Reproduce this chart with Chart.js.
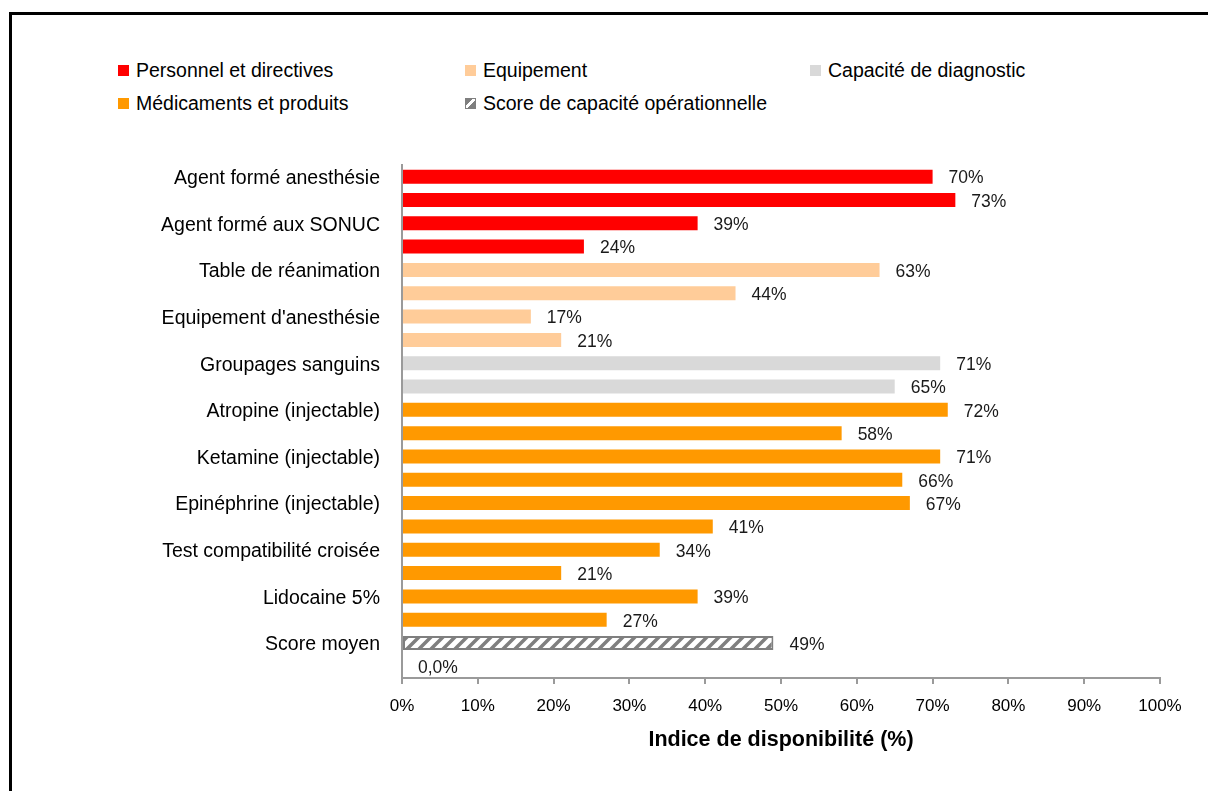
<!DOCTYPE html>
<html>
<head>
<meta charset="utf-8">
<script src="https://cdn.jsdelivr.net/npm/chart.js@4.4.0/dist/chart.umd.min.js"></script>
<style>
body{margin:0;background:#fff;}
#wrap{position:relative;width:1208px;height:791px;overflow:hidden;font-family:"Liberation Sans",Arial,sans-serif;}
#frame{position:absolute;left:9px;top:12px;width:1400px;height:1000px;border-top:3px solid #000;border-left:3px solid #000;}
#legend{position:absolute;left:118px;top:58px;display:grid;grid-template-columns:347px 345px 300px;row-gap:9px;font-size:19.5px;color:#000;}
.item{display:flex;align-items:center;height:24px;white-space:nowrap;}
.sw{width:11px;height:11px;margin-right:7px;box-sizing:border-box;}
#c{position:absolute;left:0;top:0;}
</style>
</head>
<body>
<div id="wrap">
  <div id="frame"></div>
  <div id="legend"></div>
  <canvas id="c" width="1208" height="791"></canvas>
</div>
<script>
// rows of the chart (Excel only shows every other label)
var categories = ['Agent formé anesthésie', '', 'Agent formé aux SONUC', '', 'Table de réanimation', '',
  "Equipement d'anesthésie", '', 'Groupages sanguins', '', 'Atropine (injectable)', '',
  'Ketamine (injectable)', '', 'Epinéphrine (injectable)', '', 'Test compatibilité croisée', '',
  'Lidocaine 5%', '', 'Score moyen', ''];
var values = [70, 73, 39, 24, 63, 44, 17, 21, 71, 65, 72, 58, 71, 66, 67, 41, 34, 21, 39, 27, 49, 0];
// which legend group each bar belongs to
var groups = [0, 0, 0, 0, 1, 1, 1, 1, 2, 2, 3, 3, 3, 3, 3, 3, 3, 3, 3, 3, 4, 4];
var groupNames = ['Personnel et directives', 'Equipement', 'Capacité de diagnostic',
  'Médicaments et produits', 'Score de capacité opérationnelle'];
var groupColors = ['#FF0000', '#FFCC99', '#D9D9D9', '#FF9900', 'hatch'];
var xTicks = [0, 10, 20, 30, 40, 50, 60, 70, 80, 90, 100];

var FONT = '"Liberation Sans", Arial, sans-serif';

// hatch pattern for the score bar
function makeHatch() {
  var p = document.createElement('canvas');
  p.width = 12; p.height = 12;
  var g = p.getContext('2d');
  g.fillStyle = '#fff';
  g.fillRect(0, 0, 12, 12);
  g.strokeStyle = '#7f7f7f';
  g.lineWidth = 3.5;
  g.beginPath();
  g.moveTo(-2, 14); g.lineTo(14, -2);
  g.moveTo(-8, 8); g.lineTo(8, -8);
  g.moveTo(4, 20); g.lineTo(20, 4);
  g.stroke();
  return g.createPattern(p, 'repeat');
}
var ctx = document.getElementById('c').getContext('2d');
var hatch = makeHatch();

function colorOf(i) {
  var c = groupColors[groups[i]];
  return c === 'hatch' ? hatch : c;
}

// legend
var leg = document.getElementById('legend');
groupNames.forEach(function (name, i) {
  var d = document.createElement('div');
  d.className = 'item';
  var s = document.createElement('span');
  s.className = 'sw';
  if (groupColors[i] === 'hatch') {
    s.style.border = '1px solid #7f7f7f';
    s.style.background = 'linear-gradient(135deg,#7f7f7f 0 35%,#fff 35% 60%,#7f7f7f 60%)';
  } else {
    s.style.background = groupColors[i];
  }
  d.appendChild(s);
  d.appendChild(document.createTextNode(name));
  leg.appendChild(d);
});

// value labels next to each bar
var valueLabels = {
  id: 'valueLabels',
  afterDatasetsDraw: function (chart) {
    var c = chart.ctx;
    var meta = chart.getDatasetMeta(0);
    c.save();
    c.font = '17.5px ' + FONT;
    c.fillStyle = '#1a1a1a';
    c.textAlign = 'left';
    c.textBaseline = 'middle';
    meta.data.forEach(function (bar, i) {
      var v = values[i];
      var txt = v === 0 ? '0,0%' : v + '%';
      c.fillText(txt, bar.x + 16, bar.y + 2);
    });
    c.restore();
  }
};

new Chart(ctx, {
  type: 'bar',
  data: {
    labels: categories,
    datasets: [{
      data: values,
      backgroundColor: values.map(function (v, i) { return colorOf(i); }),
      borderColor: '#7f7f7f',
      borderWidth: values.map(function (v, i) { return (groups[i] === 4 && v > 0) ? 2 : 0; }),
      borderSkipped: false,
      barPercentage: 0.6,
      categoryPercentage: 1
    }]
  },
  options: {
    indexAxis: 'y',
    responsive: false,
    animation: false,
    devicePixelRatio: 1,
    layout: { padding: { left: 0, right: 48, top: 165, bottom: 38 } },
    plugins: { legend: { display: false }, tooltip: { enabled: false } },
    scales: {
      y: {
        grid: { display: false },
        border: { display: true, color: '#9a9a9a', width: 2 },
        ticks: {
          autoSkip: false,
          padding: 14,
          labelOffset: 2,
          color: '#000',
          font: { family: FONT, size: 19.5 }
        },
        afterFit: function (s) { s.width = 402; }
      },
      x: {
        min: 0,
        max: 100,
        afterBuildTicks: function (s) { s.ticks = xTicks.map(function (v) { return { value: v }; }); },
        grid: { display: true, drawOnChartArea: false, drawTicks: true, tickLength: 6, color: '#9a9a9a', lineWidth: 2 },
        border: { display: true, color: '#9a9a9a', width: 2 },
        ticks: {
          padding: 12,
          color: '#000',
          maxRotation: 0,
          font: { family: FONT, size: 17 },
          callback: function (v) { return v + '%'; }
        },
        title: {
          display: true,
          text: 'Indice de disponibilité (%)',
          color: '#000',
          padding: { top: 10, bottom: 0 },
          font: { family: FONT, size: 21.5, weight: 'bold' }
        },
        afterFit: function (s) { s.height = 75; }
      }
    }
  },
  plugins: [valueLabels]
});
</script>
</body>
</html>
